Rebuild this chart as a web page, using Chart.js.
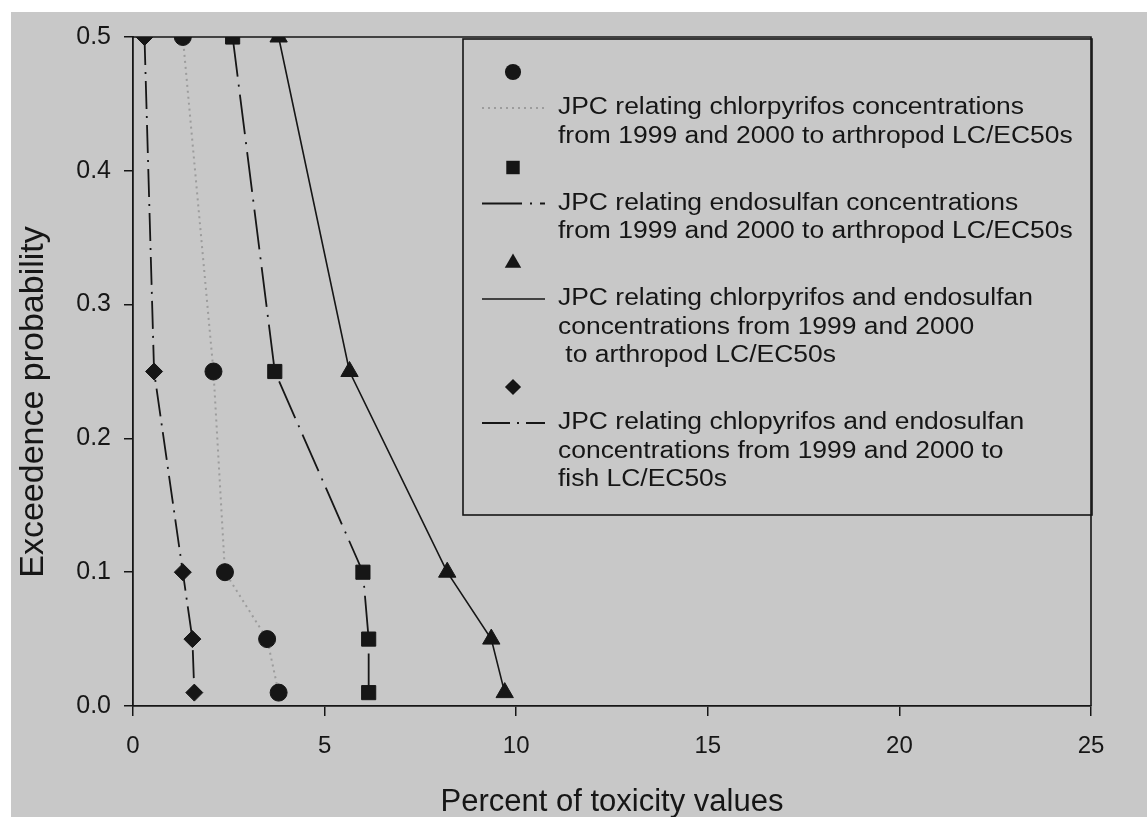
<!DOCTYPE html>
<html>
<head>
<meta charset="utf-8">
<script src="https://cdn.jsdelivr.net/npm/chart.js@4.4.0/dist/chart.umd.min.js"></script>
<style>
  html, body { margin: 0; padding: 0; background: #fff; }
  #wrap { width: 1147px; height: 817px; }
</style>
</head>
<body>
<div id="wrap"><canvas id="chart" width="1147" height="817"></canvas></div>
<script>
// exceedence probabilities shared by every curve
const PROBS = [0.5, 0.25, 0.1, 0.05, 0.01];

// percent of toxicity values, one array per curve
const chlorpyrifosArthropod = [1.3, 2.1, 2.4, 3.5, 3.8];
const endosulfanArthropod = [2.6, 3.7, 6.0, 6.15, 6.15];
const bothArthropod = [3.8, 5.65, 8.2, 9.35, 9.7];
const bothFish = [0.3, 0.55, 1.3, 1.55, 1.6];

const X_TICKS = [0, 5, 10, 15, 20, 25];
const Y_TICKS = [0, 0.1, 0.2, 0.3, 0.4, 0.5];

const X_TITLE = 'Percent of toxicity values';
const Y_TITLE = 'Exceedence probability';

const LEGEND_TEXT = [
  ['JPC relating chlorpyrifos concentrations', 'from 1999 and 2000 to arthropod LC/EC50s'],
  ['JPC relating endosulfan concentrations', 'from 1999 and 2000 to arthropod LC/EC50s'],
  ['JPC relating chlorpyrifos and endosulfan', 'concentrations from 1999 and 2000', ' to arthropod LC/EC50s'],
  ['JPC relating chlopyrifos and endosulfan', 'concentrations from 1999 and 2000 to', 'fish LC/EC50s']
];

const INK = '#161616';
const BG = '#c8c8c8';
const FONT = "'Liberation Sans', Arial, sans-serif";

const toPoints = (xs) => xs.map((x, i) => ({ x, y: PROBS[i] }));

const seriesStyles = [
  { pointStyle: 'circle', radius: 8.5, color: '#9c9c9c', width: 2, dash: [2, 4] },
  { pointStyle: 'rect', radius: 10, color: INK, width: 1.8, dash: [40, 8, 2, 8] },
  { pointStyle: 'triangle', radius: 10, color: INK, width: 1.6, dash: [] },
  { pointStyle: 'rectRot', radius: 8.5, color: INK, width: 1.8, dash: [28, 7, 2, 7] }
];

const seriesData = [chlorpyrifosArthropod, endosulfanArthropod, bothArthropod, bothFish];

const datasets = seriesData.map((xs, i) => {
  const s = seriesStyles[i];
  return {
    label: LEGEND_TEXT[i].join(' '),
    data: toPoints(xs),
    borderColor: s.color,
    borderWidth: s.width,
    borderDash: s.dash,
    pointStyle: s.pointStyle,
    pointRadius: s.radius,
    pointBackgroundColor: INK,
    pointBorderColor: INK,
    pointBorderWidth: 1,
    tension: 0
  };
});

function drawMarker(ctx, style, r, x, y) {
  ctx.save();
  ctx.fillStyle = INK;
  ctx.beginPath();
  if (style === 'circle') {
    ctx.arc(x, y, r, 0, Math.PI * 2);
  } else if (style === 'rect') {
    const h = r * Math.SQRT1_2;
    ctx.rect(x - h, y - h, 2 * h, 2 * h);
  } else if (style === 'triangle') {
    ctx.moveTo(x, y - r);
    ctx.lineTo(x + r * 0.866, y + r * 0.5);
    ctx.lineTo(x - r * 0.866, y + r * 0.5);
    ctx.closePath();
  } else {
    ctx.moveTo(x, y - r);
    ctx.lineTo(x + r, y);
    ctx.lineTo(x, y + r);
    ctx.lineTo(x - r, y);
    ctx.closePath();
  }
  ctx.fill();
  ctx.restore();
}

const backgroundPlugin = {
  id: 'paper',
  beforeDraw(chart) {
    const { ctx, width, height } = chart;
    ctx.save();
    ctx.fillStyle = '#ffffff';
    ctx.fillRect(0, 0, width, height);
    ctx.fillStyle = BG;
    ctx.fillRect(11, 12, width - 11, height - 12);
    ctx.restore();
  }
};

const frameAndLegendPlugin = {
  id: 'frameLegend',
  beforeDatasetsDraw(chart) {
    const { ctx, chartArea: a } = chart;
    ctx.save();
    ctx.strokeStyle = INK;
    ctx.lineWidth = 1.6;
    ctx.beginPath();
    ctx.moveTo(a.left, a.top);
    ctx.lineTo(a.right, a.top);
    ctx.lineTo(a.right, a.bottom);
    ctx.stroke();

    // y axis title sits a little below the plot centre in the original
    ctx.save();
    ctx.fillStyle = INK;
    ctx.font = `34px ${FONT}`;
    ctx.textAlign = 'center';
    ctx.textBaseline = 'middle';
    ctx.translate(34, 402);
    ctx.rotate(-Math.PI / 2);
    ctx.fillText(Y_TITLE, 0, 0);
    ctx.restore();

    // legend box
    const boxLeft = 463, boxTop = a.top + 2, boxRight = a.right + 1, boxBottom = 515;
    ctx.lineWidth = 1.6;
    ctx.strokeRect(boxLeft, boxTop, boxRight - boxLeft, boxBottom - boxTop);

    let y = 72;
    LEGEND_TEXT.forEach((lines, i) => {
      const s = seriesStyles[i];
      drawMarker(ctx, s.pointStyle, s.radius * 0.95, 513, y);
      y += 36;
      ctx.save();
      ctx.strokeStyle = s.color;
      ctx.lineWidth = s.width;
      ctx.setLineDash(s.dash);
      ctx.beginPath();
      ctx.moveTo(482, y);
      ctx.lineTo(545, y);
      ctx.stroke();
      ctx.restore();
      lines.forEach((line, j) => {
        ctx.save();
        ctx.fillStyle = INK;
        ctx.font = `23px ${FONT}`;
        ctx.textBaseline = 'middle';
        ctx.translate(558, y);
        ctx.scale(1.15, 1);
        ctx.fillText(line, 0, 0);
        ctx.restore();
        if (j < lines.length - 1) y += 28.5;
      });
      y += 31;
    });
    ctx.restore();
  }
};

new Chart(document.getElementById('chart'), {
  type: 'line',
  data: { datasets },
  options: {
    responsive: false,
    animation: false,
    layout: { padding: { top: 37, right: 56, left: 0, bottom: 0 } },
    plugins: {
      legend: { display: false },
      tooltip: { enabled: false }
    },
    scales: {
      x: {
        type: 'linear',
        min: 0,
        max: 25,
        afterBuildTicks: (scale) => { scale.ticks = X_TICKS.map((value) => ({ value })); },
        afterFit: (scale) => { scale.height = 111; },
        ticks: {
          color: INK,
          font: { family: FONT, size: 24 },
          padding: 16,
          maxRotation: 0
        },
        grid: { drawOnChartArea: false, tickLength: 10, color: INK, lineWidth: 1.5 },
        border: { color: INK, width: 1.8 },
        title: {
          display: true,
          text: X_TITLE,
          color: INK,
          font: { family: FONT, size: 31 },
          padding: -4
        }
      },
      y: {
        type: 'linear',
        min: 0,
        max: 0.5,
        afterBuildTicks: (scale) => { scale.ticks = Y_TICKS.map((value) => ({ value })); },
        afterFit: (scale) => { scale.width = 133; },
        ticks: {
          color: INK,
          font: { family: FONT, size: 25 },
          padding: 13,
          callback: (v) => v.toFixed(1)
        },
        grid: { drawOnChartArea: false, tickLength: 9, color: INK, lineWidth: 1.5 },
        border: { color: INK, width: 1.8 }
      }
    }
  },
  plugins: [backgroundPlugin, frameAndLegendPlugin]
});
</script>
</body>
</html>
